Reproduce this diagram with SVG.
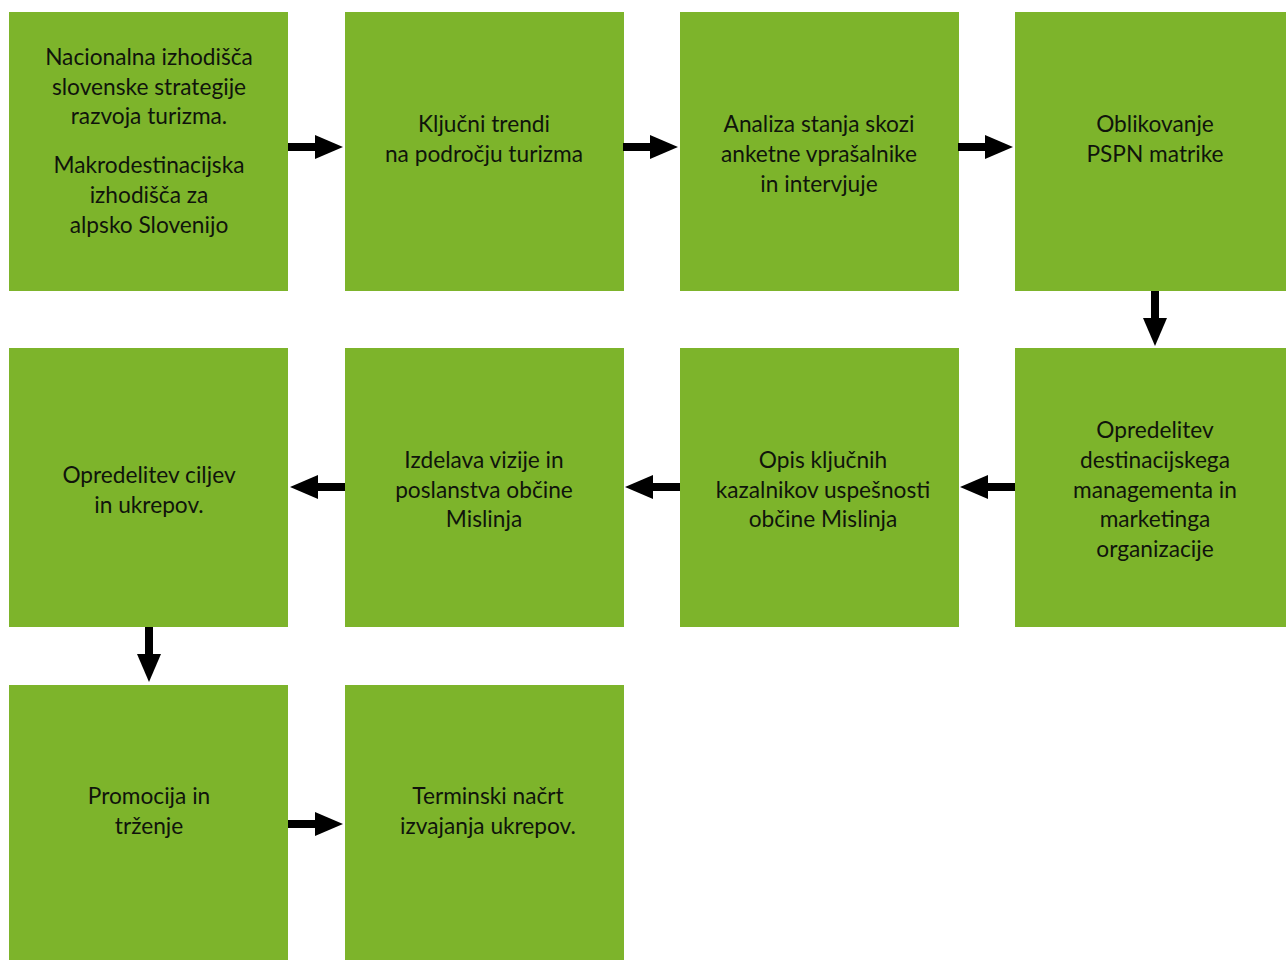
<svg xmlns="http://www.w3.org/2000/svg" width="1286" height="960" viewBox="0 0 1286 960">
<style>
.box{fill:#7db42b}
.t{font-family:Lato,"Noto Sans","Liberation Sans",sans-serif;font-size:22.7px;fill:#10140b;text-anchor:middle}
.c{stroke:#000;stroke-width:8;fill:none}
</style>
<defs>
<marker id="ah" viewBox="0 0 28 24" refX="1" refY="12" markerWidth="28" markerHeight="24" markerUnits="userSpaceOnUse" orient="auto">
<path d="M0,0 L28,12 L0,24 z" fill="#000"/>
</marker>
</defs>
<rect width="1286" height="960" fill="#fff"/>
<g id="n1"><rect class="box" x="9" y="12" width="279" height="279"/>
<text class="t"><tspan x="149" y="65">Nacionalna izhodišča</tspan><tspan x="149" y="95">slovenske strategije</tspan><tspan x="149" y="124">razvoja turizma.</tspan><tspan x="149" y="173">Makrodestinacijska</tspan><tspan x="149" y="203">izhodišča za</tspan><tspan x="149" y="233">alpsko Slovenijo</tspan></text></g>
<g id="n2"><rect class="box" x="345" y="12" width="279" height="279"/>
<text class="t"><tspan x="484" y="132">Ključni trendi</tspan><tspan x="484" y="162">na področju turizma</tspan></text></g>
<g id="n3"><rect class="box" x="680" y="12" width="279" height="279"/>
<text class="t"><tspan x="819" y="132">Analiza stanja skozi</tspan><tspan x="819" y="162">anketne vprašalnike</tspan><tspan x="819" y="192">in intervjuje</tspan></text></g>
<g id="n4"><rect class="box" x="1015" y="12" width="279" height="279"/>
<text class="t"><tspan x="1155" y="132">Oblikovanje</tspan><tspan x="1155" y="162">PSPN matrike</tspan></text></g>
<g id="n5"><rect class="box" x="1015" y="348" width="279" height="279"/>
<text class="t"><tspan x="1155" y="438">Opredelitev</tspan><tspan x="1155" y="468">destinacijskega</tspan><tspan x="1155" y="498">managementa in</tspan><tspan x="1155" y="527">marketinga</tspan><tspan x="1155" y="557">organizacije</tspan></text></g>
<g id="n6"><rect class="box" x="680" y="348" width="279" height="279"/>
<text class="t"><tspan x="823" y="468">Opis ključnih</tspan><tspan x="823" y="498">kazalnikov uspešnosti</tspan><tspan x="823" y="527">občine Mislinja</tspan></text></g>
<g id="n7"><rect class="box" x="345" y="348" width="279" height="279"/>
<text class="t"><tspan x="484" y="468">Izdelava vizije in</tspan><tspan x="484" y="498">poslanstva občine</tspan><tspan x="484" y="527">Mislinja</tspan></text></g>
<g id="n8"><rect class="box" x="9" y="348" width="279" height="279"/>
<text class="t"><tspan x="149" y="483">Opredelitev ciljev</tspan><tspan x="149" y="513">in ukrepov.</tspan></text></g>
<g id="n9"><rect class="box" x="9" y="685" width="279" height="280"/>
<text class="t"><tspan x="149" y="804">Promocija in</tspan><tspan x="149" y="834">trženje</tspan></text></g>
<g id="n10"><rect class="box" x="345" y="685" width="279" height="280"/>
<text class="t"><tspan x="488" y="804">Terminski načrt</tspan><tspan x="488" y="834">izvajanja ukrepov.</tspan></text></g>
<g id="connectors">
<line class="c" x1="288" y1="147" x2="316" y2="147" marker-end="url(#ah)"/>
<line class="c" x1="623" y1="147" x2="651" y2="147" marker-end="url(#ah)"/>
<line class="c" x1="958" y1="147" x2="986" y2="147" marker-end="url(#ah)"/>
<line class="c" x1="1155" y1="291" x2="1155" y2="319" marker-end="url(#ah)"/>
<line class="c" x1="1015" y1="487" x2="987" y2="487" marker-end="url(#ah)"/>
<line class="c" x1="680" y1="487" x2="652" y2="487" marker-end="url(#ah)"/>
<line class="c" x1="345" y1="487" x2="317" y2="487" marker-end="url(#ah)"/>
<line class="c" x1="149" y1="627" x2="149" y2="655" marker-end="url(#ah)"/>
<line class="c" x1="288" y1="824" x2="316" y2="824" marker-end="url(#ah)"/>
</g>
</svg>
